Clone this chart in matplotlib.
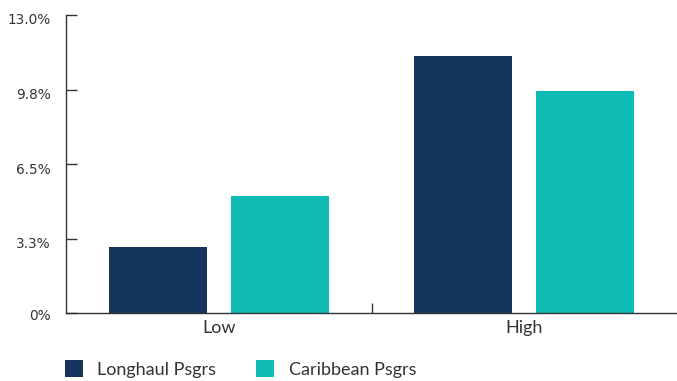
import matplotlib
matplotlib.use("Agg")
import matplotlib.pyplot as plt
from matplotlib.patches import Patch
from matplotlib.transforms import ScaledTranslation
import numpy as np

categories = ["Low", "High"]
series_names = ["Longhaul Psgrs", "Caribbean Psgrs"]
longhaul = [2.9, 11.2]
caribbean = [5.1, 9.7]
y_ticks = [0, 3.25, 6.5, 9.75, 13.0]
y_tick_labels = ["0%", "3.3%", "6.5%", "9.8%", "13.0%"]

navy = "#15355E"
teal = "#10BCB6"
text_color = "#333333"
axis_color = "#333333"

plt.rcParams["font.family"] = ["Lato", "DejaVu Sans"]

fig = plt.figure(figsize=(6.77, 3.81), dpi=100)
ax = fig.add_axes([66 / 677, 1 - 313 / 381, 611 / 677, 298 / 381])

x = np.arange(len(categories))
width = 0.32
offset = 0.2
ax.bar(x - offset, longhaul, width, color=navy, label=series_names[0])
ax.bar(x + offset, caribbean, width, color=teal, label=series_names[1])

ax.set_xlim(-0.5, 1.5)
ax.set_ylim(0, 13.0)

ax.set_yticks(y_ticks)
ax.set_yticklabels(y_tick_labels, family=["DejaVu Sans"])
ax.tick_params(axis="y", direction="in", length=8, width=1, color=axis_color,
               labelsize=9.8, labelcolor=text_color, pad=11)
# labels sit slightly below their tick marks
for lbl, val in zip(ax.get_yticklabels(), y_ticks):
    dy = -1 / 100 if val == 0 else -4 / 100
    lbl.set_transform(lbl.get_transform() + ScaledTranslation(0, dy, fig.dpi_scale_trans))

# category labels sit at band centres, the tick marks sit between bands
ax.set_xticks([0.5])
ax.set_xticklabels([""])
ax.tick_params(axis="x", direction="in", length=7, width=1, color=axis_color)
ax.set_xticks(x, minor=True)
ax.set_xticklabels(categories, minor=True)
ax.tick_params(axis="x", which="minor", length=0, labelsize=13,
               labelcolor=text_color, pad=5)

for side in ["top", "right"]:
    ax.spines[side].set_visible(False)
for side in ["left", "bottom"]:
    ax.spines[side].set_color(axis_color)
    ax.spines[side].set_linewidth(1)

handles = [Patch(facecolor=navy, label=series_names[0]),
           Patch(facecolor=teal, label=series_names[1])]
fig.legend(handles=handles, loc="center left", bbox_to_anchor=(0.096, 0.0315),
           ncol=2, frameon=False, fontsize=13, labelcolor=text_color,
           handlelength=1.0, handleheight=1.0, handletextpad=0.8,
           columnspacing=2.2, borderpad=0, borderaxespad=0)

fig.savefig("out.png", dpi=100)
